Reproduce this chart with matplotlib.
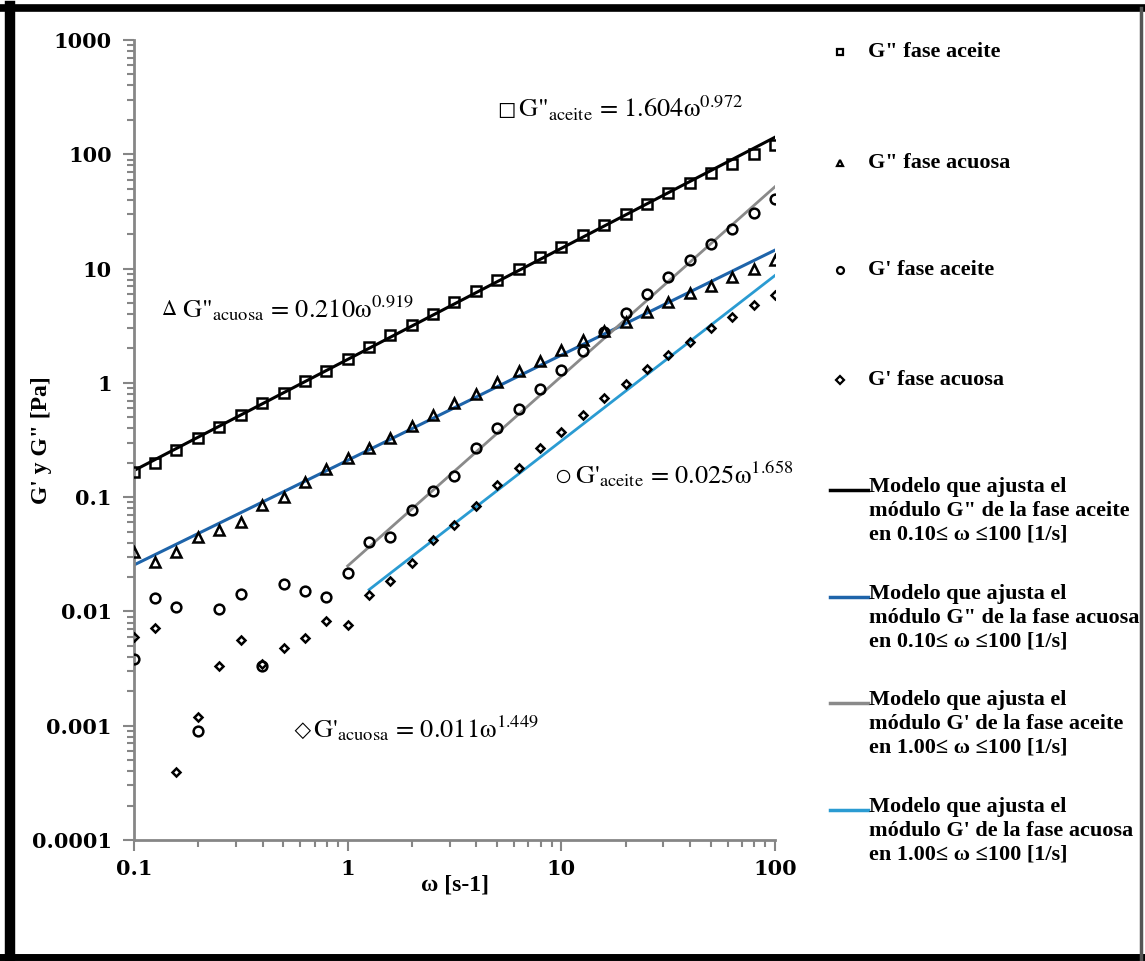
import numpy as np
import matplotlib
matplotlib.use("Agg")
import matplotlib.pyplot as plt
from matplotlib.lines import Line2D
from matplotlib.ticker import LogLocator, NullFormatter, FixedLocator, FixedFormatter

plt.rcParams['mathtext.fontset'] = 'stix'

# frequencies (log spaced, 10 per decade)
omega = [0.1, 0.126, 0.158, 0.2, 0.251, 0.316, 0.398, 0.501, 0.631, 0.794,
         1.0, 1.26, 1.58, 2.0, 2.51, 3.16, 3.98, 5.01, 6.31, 7.94,
         10.0, 12.6, 15.8, 20.0, 25.1, 31.6, 39.8, 50.1, 63.1, 79.4, 100.0]

# G'' fase aceite
g2_aceite = [0.165, 0.20, 0.26, 0.33, 0.41, 0.52, 0.66, 0.82, 1.03, 1.28,
             1.62, 2.05, 2.6, 3.2, 4.0, 5.1, 6.4, 8.0, 10.0, 12.6,
             15.6, 19.5, 24.0, 30.0, 37.0, 46.0, 56.0, 68.0, 82.0, 100.0, 120.0]

# G'' fase acuosa
g2_acuosa = [0.033, 0.027, 0.033, 0.045, 0.052, 0.060, 0.085, 0.100, 0.135, 0.175,
             0.22, 0.27, 0.33, 0.42, 0.52, 0.66, 0.80, 1.02, 1.27, 1.55,
             1.95, 2.35, 2.85, 3.4, 4.2, 5.1, 6.1, 7.1, 8.4, 10.0, 11.8]

# G' fase aceite
g1_aceite = [0.0038, 0.013, 0.011, 0.00089, 0.0105, 0.0141, 0.0033, 0.0174, 0.0152, 0.0134,
             0.0218, 0.0407, 0.045, 0.077, 0.113, 0.154, 0.27, 0.40, 0.59, 0.89,
             1.3, 1.9, 2.8, 4.1, 6.0, 8.5, 11.9, 16.4, 22.2, 30.7, 40.9]

# G' fase acuosa
g1_acuosa = [0.0060, 0.0072, 0.00039, 0.0012, 0.0033, 0.0056, 0.0035, 0.0048, 0.0059, 0.0083,
             0.0076, 0.014, 0.0186, 0.0266, 0.042, 0.057, 0.083, 0.128, 0.18, 0.27,
             0.37, 0.52, 0.74, 0.98, 1.33, 1.76, 2.3, 3.0, 3.8, 4.8, 5.9]

# model lines
fit_g2_aceite_x = [0.1, 100]
fit_g2_aceite_y = [0.171, 141]
fit_g2_acuosa_x = [0.1, 1, 10, 100]
fit_g2_acuosa_y = [0.0255, 0.21, 1.75, 14.5]
fit_g1_aceite_x = [1, 100]
fit_g1_aceite_y = [0.025, 52]
fit_g1_acuosa_x = [1.26, 100]
fit_g1_acuosa_y = [0.0155, 8.7]

c_black = "#000000"
c_blue = "#1e64aa"
c_grey = "#8a8a8a"
c_light = "#2a9bd2"

serif_b = dict(family="Liberation Serif", fontweight="bold")

W, H = 1145, 961
fig = plt.figure(figsize=(11.45, 9.61), dpi=100)
ax = fig.add_axes([134/W, 1 - 840/H, (775-134)/W, (840-40)/H])

mk = dict(linestyle="none", markerfacecolor="none", markeredgecolor="black",
          markeredgewidth=1.8, zorder=3)
ax.plot(omega, g2_aceite, marker="s", markersize=7, **mk)
ax.plot(omega, g2_acuosa, marker="^", markersize=7, **mk)
ax.plot(omega, g1_aceite, marker="o", markersize=7, **mk)
ax.plot(omega, g1_acuosa, marker="D", markersize=4.5, **mk)

ax.plot(fit_g2_aceite_x, fit_g2_aceite_y, color=c_black, lw=2.2, zorder=2)
ax.plot(fit_g2_acuosa_x, fit_g2_acuosa_y, color=c_blue, lw=2.2, zorder=2)
ax.plot(fit_g1_aceite_x, fit_g1_aceite_y, color=c_grey, lw=2.0, zorder=2)
ax.plot(fit_g1_acuosa_x, fit_g1_acuosa_y, color=c_light, lw=2.0, zorder=2)

ax.set_xscale("log")
ax.set_yscale("log")
ax.set_xlim(0.1, 100)
ax.set_ylim(0.0001, 1000)

ax.xaxis.set_major_locator(FixedLocator([0.1, 1, 10, 100]))
ax.xaxis.set_major_formatter(FixedFormatter(["0.1", "1", "10", "100"]))
ax.xaxis.set_minor_locator(LogLocator(base=10, subs=np.arange(2, 10)))
ax.xaxis.set_minor_formatter(NullFormatter())
yt = [0.0001, 0.001, 0.01, 0.1, 1, 10, 100, 1000]
ax.yaxis.set_major_locator(FixedLocator(yt))
ax.yaxis.set_major_formatter(FixedFormatter(["0.0001", "0.001", "0.01", "0.1", "1", "10", "100", "1000"]))
ax.yaxis.set_minor_locator(LogLocator(base=10, subs=np.arange(2, 10)))
ax.yaxis.set_minor_formatter(NullFormatter())

for s in ["top", "right"]:
    ax.spines[s].set_visible(False)
for s in ["left", "bottom"]:
    ax.spines[s].set_color("#868686")
    ax.spines[s].set_linewidth(2)
ax.tick_params(which="major", direction="out", length=8, width=1.5, color="#868686", pad=6)
ax.tick_params(which="minor", direction="out", length=5, width=1.5, color="#868686")
ax.tick_params(axis="y", which="major", pad=8)
for lab in ax.get_xticklabels() + ax.get_yticklabels():
    lab.set_fontfamily("DejaVu Serif")
    lab.set_fontweight("bold")
    lab.set_fontsize(15)

fig.text(42/W, 1 - 440/H, "G' y G\" [Pa]", rotation=90, ha="center", va="center",
         fontsize=17, **serif_b)
fig.text(455/W, 1 - 885/H, "ω [s-1]", ha="center", va="center", fontsize=17, **serif_b)

# equations: small symbol + expression
eq = dict(family="STIXGeneral", fontsize=19, ha="left", va="baseline")
eqs = [(498, 117, "□", 13, "G\"$_{\\mathrm{aceite}}$ = 1.604ω$^{0.972}$"),
       (162, 317, "Δ", 15, "G\"$_{\\mathrm{acuosa}}$ = 0.210ω$^{0.919}$"),
       (555, 483, "○", 13, "G'$_{\\mathrm{aceite}}$ = 0.025ω$^{1.658}$"),
       (293, 737, "◇", 12, "G'$_{\\mathrm{acuosa}}$ = 0.011ω$^{1.449}$")]
for px, py, s, fs, txt in eqs:
    fig.text(px/W, 1 - (py - 2)/H, s, family="STIXGeneral", fontsize=fs,
             ha="left", va="baseline")
    fig.text((px + 20)/W, 1 - py/H, txt, **eq)

# legend drawn by hand
mk_leg = [("s", 52, "G\" fase aceite"), ("^", 163, "G\" fase acuosa"),
          ("o", 270, "G' fase aceite"), ("D", 380, "G' fase acuosa")]
for m, py, txt in mk_leg:
    fig.add_artist(Line2D([840/W], [1 - py/H], marker=m, markersize=5 if m != "D" else 4,
                          markerfacecolor="none",
                          markeredgecolor="black", markeredgewidth=1.6, linestyle="none",
                          transform=fig.transFigure))
    fig.text(868/W, 1 - py/H, txt, ha="left", va="center", fontsize=16, **serif_b)

ln_leg = [(c_black, 490, "Modelo que ajusta el\nmódulo G\" de la fase aceite\nen 0.10≤ ω ≤100 [1/s]"),
          (c_blue, 597, "Modelo que ajusta el\nmódulo G\" de la fase acuosa\nen 0.10≤ ω ≤100 [1/s]"),
          (c_grey, 703, "Modelo que ajusta el\nmódulo G' de la fase aceite\nen 1.00≤ ω ≤100 [1/s]"),
          (c_light, 810, "Modelo que ajusta el\nmódulo G' de la fase acuosa\nen 1.00≤ ω ≤100 [1/s]")]
for col, py, txt in ln_leg:
    fig.add_artist(Line2D([830/W, 868/W], [1 - py/H, 1 - py/H], color=col, lw=2.5,
                          transform=fig.transFigure))
    fig.text(869/W, 1 - (py - 13)/H, txt, ha="left", va="top", fontsize=16,
             linespacing=1.25, **serif_b)

# outer frame
fig.add_artist(Line2D([10/W, 10/W], [0, 1 - 6/H], color="black", lw=7.5, transform=fig.transFigure))
fig.add_artist(Line2D([0, 1], [1 - 8/H, 1 - 8/H], color="black", lw=5.5, transform=fig.transFigure))
fig.add_artist(Line2D([0, 1], [4/H, 4/H], color="black", lw=5, transform=fig.transFigure))
fig.add_artist(Line2D([1141/W, 1141/W], [0, 1 - 8/H], color="#555555", lw=2.5, transform=fig.transFigure))

fig.savefig("out.png", dpi=100)
